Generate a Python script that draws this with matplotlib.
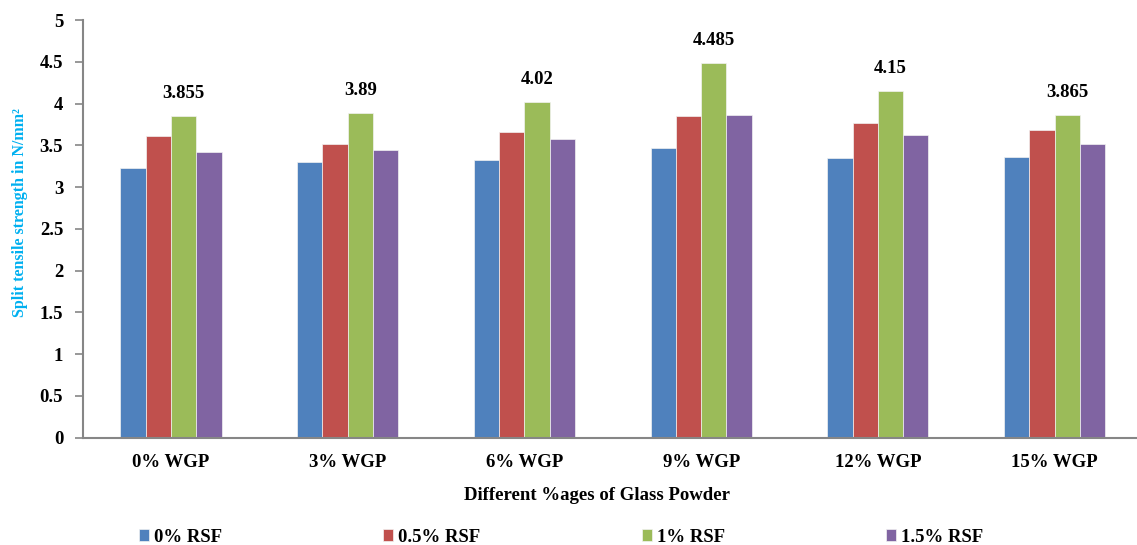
import matplotlib.pyplot as plt
import numpy as np

plt.rcParams['font.family'] = ['Liberation Serif', 'DejaVu Serif']
plt.rcParams['font.weight'] = 'bold'

# data
groups = ['0% WGP', '3% WGP', '6% WGP', '9% WGP', '12% WGP', '15% WGP']
series = ['0% RSF', '0.5% RSF', '1% RSF', '1.5% RSF']
rsf_0 = [3.225, 3.305, 3.32, 3.47, 3.35, 3.36]
rsf_05 = [3.61, 3.52, 3.665, 3.857, 3.77, 3.68]
rsf_1 = [3.855, 3.89, 4.02, 4.485, 4.15, 3.865]
rsf_15 = [3.417, 3.45, 3.58, 3.87, 3.63, 3.52]
colors = ['#4F81BD', '#C0504D', '#9BBB59', '#8064A2']

fig = plt.figure(figsize=(11.37, 5.45), dpi=100)
ax = fig.add_axes([0.0727, 0.197, 0.9326, 0.766])

x = np.arange(len(groups))
w = 0.143
all_vals = [rsf_0, rsf_05, rsf_1, rsf_15]
bars = []
for i, vals in enumerate(all_vals):
    b = ax.bar(x + (i - 1.5) * w, vals, w, color=colors[i], label=series[i],
               edgecolor='#f2f2f2', linewidth=0.5)
    bars.append(b)

# only the 1% RSF series has value labels
ax.bar_label(bars[2], labels=[f'{v:g}' for v in rsf_1], padding=10,
             fontsize=13.5, fontweight='bold')

ax.set_xlim(-0.5, len(groups) - 0.5)
ax.set_ylim(0, 5)
ax.set_yticks(np.arange(0, 5.01, 0.5))
ax.set_yticklabels(['0', '0.5', '1', '1.5', '2', '2.5', '3', '3.5', '4', '4.5', '5'])
ax.set_xticks(x)
ax.set_xticklabels(groups)

for s in ['top', 'right']:
    ax.spines[s].set_visible(False)
for s in ['left', 'bottom']:
    ax.spines[s].set_color('#868686')
    ax.spines[s].set_linewidth(1.5)

ax.tick_params(axis='y', length=6, width=1.2, color='#868686', pad=8, labelsize=13.5)
ax.tick_params(axis='x', length=0, pad=12, labelsize=13.5)

fig.text(20 / 1137, 1 - 213 / 545, 'Split tensile strength in N/mm²', color='#00B0F0',
         fontsize=11.5, fontweight='bold', rotation=90, ha='center', va='center')
ax.set_xlabel('Different %ages of Glass Powder', fontsize=13.5, fontweight='bold')
ax.xaxis.set_label_coords((597 - 82.7) / (1143 - 82.7), -0.118)

fig.legend(loc='center', bbox_to_anchor=(561 / 1137, 8 / 545), ncol=4,
           frameon=False, fontsize=13.5, handlelength=0.55, handleheight=0.55,
           handletextpad=0.25, columnspacing=8.6)

fig.savefig('out.png', dpi=100)
